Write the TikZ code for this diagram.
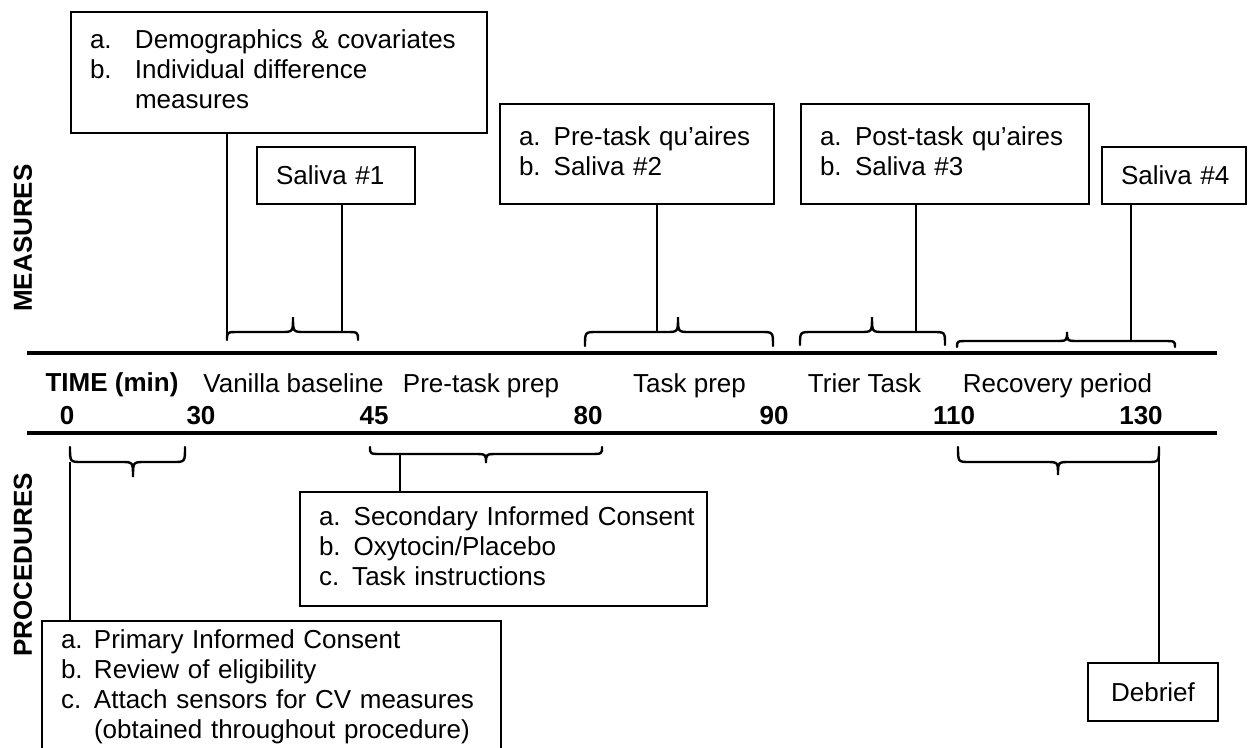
\documentclass[tikz,border=0pt]{standalone}
\usepackage{fontspec}
\setmainfont{Liberation Sans}
\newcommand\BRC[6]{\draw[brc] (#1,#4) .. controls (#1,#5) .. (#1+12,#5) -- (#3-12,#5) .. controls (#3,#5) .. (#3,#6) .. controls (#3,#5) .. (#3+12,#5) -- (#2-12,#5) .. controls (#2,#5) .. (#2,#4);}
\begin{document}
\begin{tikzpicture}[x=1pt,y=-1pt,
  every node/.style={font=\fontsize{26}{30}\selectfont, inner sep=0pt},
  box/.style n args={3}{draw, line width=2pt, anchor=north west, inner xsep=19pt, inner ysep=0pt, align=left, minimum width=#1, minimum height=#2, text width=#3},
  conn/.style={line width=2.6pt},
  brc/.style={line width=2.4pt, line cap=round},
  axis/.style={line width=4pt},
  lbl/.style={anchor=base},
  num/.style={anchor=base, font=\fontsize{26}{30}\selectfont\bfseries},
  side/.style={font=\fontsize{26}{30}\selectfont\bfseries, rotate=90},
]
\useasboundingbox (0,0) rectangle (1257,747);
\clip (0,0) rectangle (1257,747);

% side titles
\node[side] (meas) at (23,238) {MEASURES};
\node[side] (proc) at (23,565) {PROCEDURES};

% time axis
\coordinate (a1l) at (27,352.5); \coordinate (a1r) at (1217,352.5);
\coordinate (a2l) at (27,432.5); \coordinate (a2r) at (1217,432.5);
\draw[axis] (a1l) -- (a1r);
\draw[axis] (a2l) -- (a2r);

\node[lbl] (time) at (112,391) {\bfseries TIME (min)};
\node[lbl] (van) at (293.5,392) {Vanilla baseline};
\node[lbl] (ptp) at (481,392) {Pre-task prep};
\node[lbl] (tp) at (689.5,392) {Task prep};
\node[lbl] (tt) at (864.5,392) {Trier Task};
\node[lbl] (rp) at (1057.5,392) {Recovery period};

\node[num] (n0) at (67,424) {0};
\node[num] (n30) at (201,424) {30};
\node[num] (n45) at (374,424) {45};
\node[num] (n80) at (588,424) {80};
\node[num] (n90) at (774,424) {90};
\node[num] (n110) at (954,424) {110};
\node[num] (n130) at (1141,424) {130};

% measures boxes
\node[box={416pt}{121pt}{378pt}] (demo) at (70,11) {\begin{tabular}{@{}p{45pt}@{}l@{}}a.&Demographics \& covariates\\b.&Individual difference\\&measures\end{tabular}};
\node[box={158pt}{57pt}{120pt}] (sal1) at (256,146) {\mbox{Saliva \#1}};
\node[box={274pt}{100pt}{236pt}] (pre) at (499,103) {\begin{tabular}{@{}l@{}}a. Pre-task qu’aires\\b. Saliva \#2\end{tabular}};
\node[box={288pt}{100pt}{250pt}] (post) at (800,103) {\begin{tabular}{@{}p{35pt}@{}l@{}}a.&Post-task qu’aires\\b.&Saliva \#3\end{tabular}};
\node[box={144pt}{57pt}{106pt}] (sal4) at (1101,146) {\mbox{Saliva \#4}};

% procedure boxes
\node[box={407pt}{114pt}{369pt}] (sec) at (299,491) {\begin{tabular}{@{}l@{}}a. Secondary Informed Consent\\b. Oxytocin/Placebo\\c. Task instructions\end{tabular}};
\node[box={459pt}{132pt}{421pt}] (prim) at (41,620) {\begin{tabular}{@{}p{33pt}@{}l@{}}a.&Primary Informed Consent\\b.&Review of eligibility\\c.&Attach sensors for CV measures\\&(obtained throughout procedure)\end{tabular}};
\node[draw, line width=2pt, anchor=north west, minimum width=130pt, minimum height=58pt] (deb) at (1087,662) {Debrief};

% braces above
\BRC{227}{358}{293}{340}{332}{317}
\BRC{585}{773}{678}{346}{332}{317}
\BRC{800}{945}{872}{345}{332}{317}
\BRC{957}{1175}{1067}{347}{341}{332}
% braces below
\BRC{70}{185}{133}{447}{462}{477}
\BRC{370}{602}{486}{447}{454}{463}
\BRC{958}{1159}{1058}{447}{462}{475}

% connector end points
\coordinate (c1) at (227,340);
\coordinate (c2) at (342,332);
\coordinate (c3) at (657,332);
\coordinate (c4) at (916,332);
\coordinate (c5) at (1131,341);
\coordinate (c6) at (70,462);
\coordinate (c7) at (400,454);
\coordinate (c8) at (1159,447);

\draw[conn] (demo.south -| c1) -- (c1);
\draw[conn] (sal1.south -| c2) -- (c2);
\draw[conn] (pre.south -| c3) -- (c3);
\draw[conn] (post.south -| c4) -- (c4);
\draw[conn] (sal4.south -| c5) -- (c5);
\draw[conn] (c6) -- (prim.north -| c6);
\draw[conn] (c7) -- (sec.north -| c7);
\draw[conn] (c8) -- (deb.north -| c8);
\end{tikzpicture}
\end{document}
